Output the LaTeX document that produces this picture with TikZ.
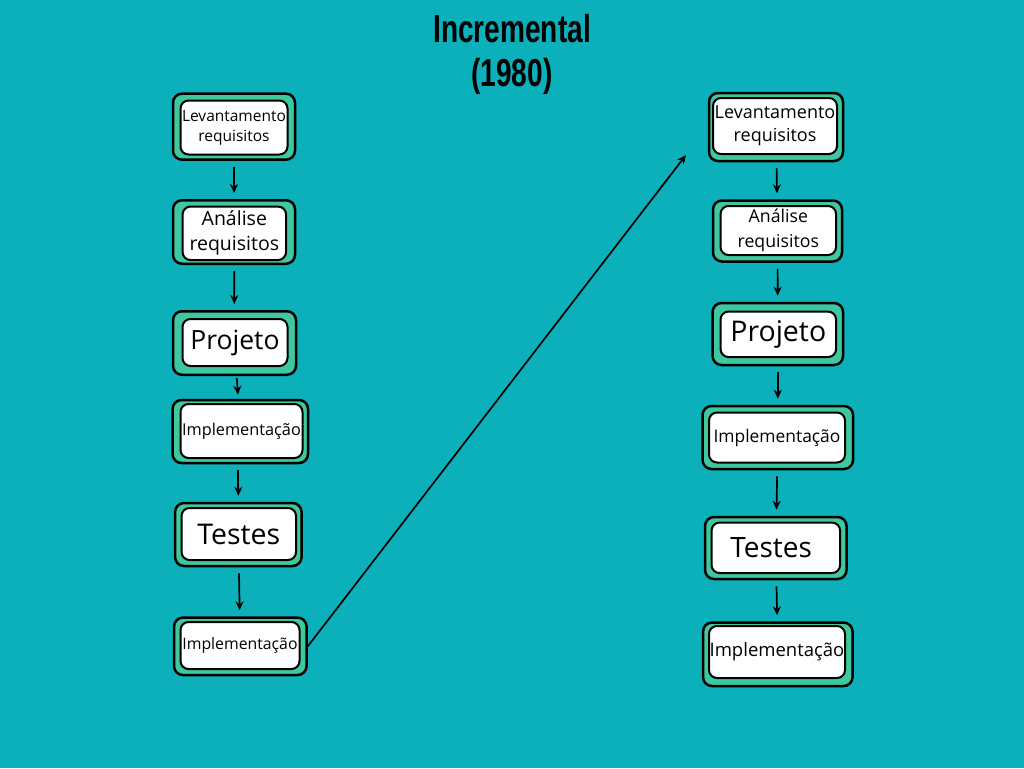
\documentclass[tikz,border=0pt]{standalone}
\usepackage{fontspec}
\setmainfont{Open Sans}
\newfontfamily\titlefont[FakeStretch=0.72]{Liberation Sans}
\usetikzlibrary{arrows.meta}
\definecolor{bgteal}{RGB}{11,176,186}
\definecolor{mint}{RGB}{62,200,160}
\tikzset{
  outerbox/.style={draw=black, fill=mint, line width=2.5pt, rounded corners=9pt, inner sep=0pt},
  innerbox/.style={draw=black, fill=white, line width=2pt, rounded corners=8pt, inner sep=0pt, align=center, text=black},
  arr/.style={draw=black, line width=1.7pt, -{Stealth[length=9pt,width=8pt]}, shorten <=6pt, shorten >=6pt},
}
\begin{document}
\begin{tikzpicture}[x=1pt,y=-1pt]
\fill[bgteal] (0,0) rectangle (1024,768);
\useasboundingbox (0,0) rectangle (1024,768);

\node[anchor=base, align=center, font=\titlefont\bfseries\fontsize{39}{44}\selectfont] (title) at (512,86) {Incremental\\(1980)};

% left column
\node[outerbox, minimum width=122pt, minimum height=66pt] (L1) at (234,126.7) {};
\node[innerbox, minimum width=107pt, minimum height=54pt, font=\fontsize{15.5}{20}\selectfont] (L1i) at (234,127.5) {Levantamento\\requisitos};
\node[outerbox, minimum width=122pt, minimum height=63.5pt] (L2) at (234,232) {};
\node[innerbox, minimum width=103.5pt, minimum height=53.5pt, font=\fontsize{19.5}{25}\selectfont] (L2i) at (234.3,233.3) {Análise\\requisitos};
\node[outerbox, minimum width=123pt, minimum height=63.5pt] (L3) at (234.5,343) {};
\node[innerbox, minimum width=105pt, minimum height=47pt, font=\fontsize{26.5}{30}\selectfont] (L3i) at (235,342.5) {Projeto};
\node[outerbox, minimum width=135.5pt, minimum height=63pt] (L4) at (240.3,431.5) {};
\node[innerbox, minimum width=122pt, minimum height=54pt, font=\fontsize{16.3}{20}\selectfont] (L4i) at (241.5,431) {Implementação};
\node[outerbox, minimum width=126.5pt, minimum height=63pt] (L5) at (238.3,534.5) {};
\node[innerbox, minimum width=114.5pt, minimum height=52pt, font=\fontsize{28.5}{32}\selectfont] (L5i) at (238.8,534) {Testes};
\node[outerbox, minimum width=132.5pt, minimum height=57.5pt] (L6) at (240.3,646.3) {};
\node[innerbox, minimum width=119pt, minimum height=47pt, font=\fontsize{15.8}{20}\selectfont] (L6i) at (240,645.5) {Implementação};

% right column
\node[outerbox, minimum width=134pt, minimum height=68pt] (R1) at (776,127) {};
\node[innerbox, minimum width=124pt, minimum height=56pt, font=\fontsize{18}{23}\selectfont] (R1i) at (775,126) {Levantamento\\requisitos};
\node[outerbox, minimum width=129pt, minimum height=61pt] (R2) at (777.5,231) {};
\node[innerbox, minimum width=115.5pt, minimum height=49pt, font=\fontsize{17.7}{25}\selectfont] (R2i) at (778.3,230.5) {Análise\\requisitos};
\node[outerbox, minimum width=130.5pt, minimum height=62pt] (R3) at (777.8,334) {};
\node[innerbox, minimum width=115.5pt, minimum height=45.5pt, font=\fontsize{28.5}{32}\selectfont] (R3i) at (778.3,334.3) {Projeto};
\node[outerbox, minimum width=150.5pt, minimum height=63pt] (R4) at (777.8,437.5) {};
\node[innerbox, minimum width=136pt, minimum height=50pt, font=\fontsize{17.4}{22}\selectfont] (R4i) at (777,437.5) {Implementação};
\node[outerbox, minimum width=141.5pt, minimum height=62pt] (R5) at (775.8,548) {};
\node[innerbox, minimum width=128.5pt, minimum height=50.5pt, font=\fontsize{28}{32}\selectfont] (R5i) at (775.8,547.8) {Testes\,\,};
\node[outerbox, minimum width=149.5pt, minimum height=63.5pt] (R6) at (777.8,654.3) {};
\node[innerbox, minimum width=136pt, minimum height=52pt, font=\fontsize{18.5}{22}\selectfont] (R6i) at (777,652) {Implementação};

% arrows
\draw[arr] (L1) -- (L2);
\draw[arr] (L2) -- (L3);
\draw[arr, shorten <=2pt, shorten >=4pt] (L3) -- (L4);
\draw[arr] (L4.south -| L5.south) -- (L5);
\draw[arr] (L5) -- (L6);
\draw[arr] (R1) -- (R2);
\draw[arr] (R2) -- (R3);
\draw[arr] (R3) -- (R4);
\draw[arr] (R4) -- (R5);
\draw[arr] (R5) -- (R6);

\coordinate (lend) at (686,155);
\draw[draw=black, line width=1.7pt, -{Stealth[length=9pt,width=8pt]}] (L6.east) -- (lend);
\end{tikzpicture}
\end{document}
